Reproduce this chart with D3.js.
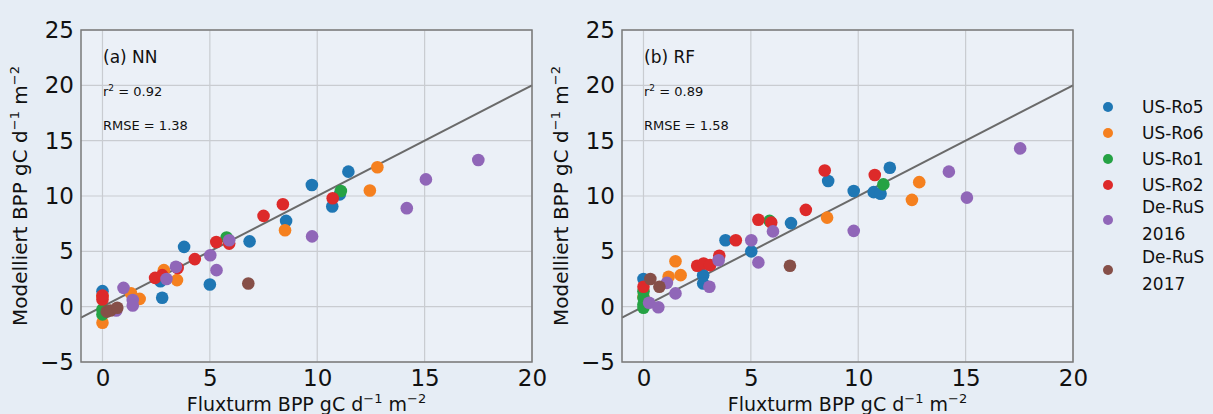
<!DOCTYPE html>
<html>
<head>
<meta charset="utf-8">
<script src="https://cdn.jsdelivr.net/npm/d3@7"></script>
<style>
  body { margin: 0; background: #e6edf5; }
  svg { display: block; font-family: "DejaVu Sans", sans-serif; }
</style>
</head>
<body>
<svg id="chart" width="1213" height="414"></svg>
<script>
// Standorte und Farben
const sites = ['US-Ro5', 'US-Ro6', 'US-Ro1', 'US-Ro2', 'De-RuS 2016', 'De-RuS 2017'];
const colors = ['#1f77b4', '#f5801f', '#25a244', '#dd2a2a', '#9066b8', '#864f48'];
const xTicks = [0, 5, 10, 15, 20];
const yTicks = [-5, 0, 5, 10, 15, 20, 25];

// (a) NN: [Fluxturm, Modelliert]
const nnRo5 = [[0, 1.4], [2.78, 0.8], [2.7, 2.3], [3.8, 5.4], [5.0, 2.0], [6.85, 5.9], [8.55, 7.75], [9.75, 11.0], [10.7, 9.05], [11.05, 10.15], [11.45, 12.2]];
const nnRo6 = [[0, -1.45], [0, 0.95], [1.33, 1.2], [1.73, 0.7], [2.86, 3.3], [3.47, 2.4], [8.5, 6.9], [12.45, 10.5], [12.8, 12.6]];
const nnRo1 = [[0, -0.25], [0, -0.7], [5.78, 6.25], [11.1, 10.45]];
const nnRo2 = [[0, 0.65], [0, 1.0], [2.45, 2.6], [2.78, 2.85], [3.5, 3.5], [4.3, 4.3], [5.3, 5.85], [5.9, 5.7], [7.5, 8.2], [8.4, 9.25], [10.72, 9.8]];
const nnRuS16 = [[0.98, 1.7], [1.41, 0.6], [1.41, 0.1], [0.64, -0.35], [2.98, 2.5], [3.42, 3.6], [5.02, 4.65], [5.31, 3.3], [5.9, 6.0], [9.76, 6.35], [14.17, 8.9], [15.06, 11.5], [17.5, 13.25]];
const nnRuS17 = [[0.2, -0.45], [0.37, -0.35], [0.69, -0.1], [6.79, 2.1]];

// (b) RF
const rfRo5 = [[0, 2.5], [2.78, 2.85], [2.78, 2.1], [3.82, 6.0], [5.02, 5.0], [6.87, 7.55], [8.6, 11.35], [9.79, 10.45], [10.72, 10.35], [11.04, 10.2], [11.47, 12.55]];
const rfRo6 = [[0, 0.9], [1.17, 2.7], [1.49, 4.1], [1.73, 2.85], [8.55, 8.05], [12.5, 9.65], [12.84, 11.25]];
const rfRo1 = [[0, 1.4], [0, 0.8], [0, 0.2], [0, -0.1], [5.87, 7.75], [11.17, 11.05]];
const rfRo2 = [[0, 1.8], [2.5, 3.7], [2.8, 3.9], [3.1, 3.75], [3.53, 4.6], [4.3, 6.0], [5.35, 7.85], [5.95, 7.6], [7.56, 8.75], [8.44, 12.3], [10.77, 11.9]];
const rfRuS16 = [[0.26, 0.35], [0.69, -0.05], [1.09, 2.15], [1.49, 1.2], [3.07, 1.8], [3.5, 4.2], [5.02, 6.0], [5.35, 4.0], [6.03, 6.8], [9.79, 6.85], [14.22, 12.2], [15.06, 9.85], [17.54, 14.3]];
const rfRuS17 = [[0.32, 2.5], [0.74, 1.8], [6.82, 3.7]];

const panels = [
  {left: 81, label: '(a) NN', r2: '0.92', rmse: '1.38', series: [nnRo5, nnRo6, nnRo1, nnRo2, nnRuS16, nnRuS17]},
  {left: 622, label: '(b) RF', r2: '0.89', rmse: '1.58', series: [rfRo5, rfRo6, rfRo1, rfRo2, rfRuS16, rfRuS17]}
];

const svg = d3.select('#chart');
const plotTop = 30, width = 451, height = 332;

panels.forEach(p => {
  const x = d3.scaleLinear().domain([-1, 20]).range([0, width]);
  const y = d3.scaleLinear().domain([-5, 25]).range([height, 0]);
  const g = svg.append('g').attr('transform', `translate(${p.left},${plotTop})`);

  g.append('rect').attr('width', width).attr('height', height).attr('fill', '#ebf0f7');

  // Gitter
  g.selectAll('.gx').data(xTicks).enter().append('line')
    .attr('x1', d => x(d)).attr('x2', d => x(d)).attr('y1', 0).attr('y2', height)
    .attr('stroke', '#c9ccd1').attr('stroke-width', 1.2);
  g.selectAll('.gy').data(yTicks).enter().append('line')
    .attr('y1', d => y(d)).attr('y2', d => y(d)).attr('x1', 0).attr('x2', width)
    .attr('stroke', '#c9ccd1').attr('stroke-width', 1.2);

  // Achsen
  const ax = g.append('g').attr('transform', `translate(0,${height})`)
    .call(d3.axisBottom(x).tickValues(xTicks).tickSize(0).tickPadding(6).tickFormat(d3.format('d')));
  const ay = g.append('g')
    .call(d3.axisLeft(y).tickValues(yTicks).tickSize(0).tickPadding(7).tickFormat(d => d < 0 ? '\u2212' + (-d) : d));
  [ax, ay].forEach(a => {
    a.select('.domain').remove();
    a.selectAll('text').attr('font-size', 23).attr('fill', '#111').attr('font-family', '"DejaVu Sans", sans-serif');
  });
  ax.selectAll('text').attr('dy', '0.78em');

  // 1:1 Linie
  g.append('line')
    .attr('x1', x(-1)).attr('y1', y(-1)).attr('x2', x(20)).attr('y2', y(20))
    .attr('stroke', '#6a6a6a').attr('stroke-width', 2);

  // Punkte
  p.series.forEach((s, i) => {
    g.selectAll(null).data(s).enter().append('circle')
      .attr('cx', d => x(d[0])).attr('cy', d => y(d[1])).attr('r', 6.3)
      .attr('fill', colors[i]);
  });

  g.append('rect').attr('width', width).attr('height', height)
    .attr('fill', 'none').attr('stroke', '#7a7a7a').attr('stroke-width', 1.5);

  // Beschriftung
  g.append('text').attr('x', 22).attr('y', 33).attr('font-size', 17).attr('fill', '#111').text(p.label);
  const r = g.append('text').attr('x', 22).attr('y', 66).attr('font-size', 13).attr('fill', '#111');
  r.append('tspan').text('r');
  r.append('tspan').attr('font-size', 9).attr('dy', -5).text('2');
  r.append('tspan').attr('dy', 5).text(' = ' + p.r2);
  g.append('text').attr('x', 22).attr('y', 100).attr('font-size', 13).attr('fill', '#111').text('RMSE = ' + p.rmse);

  // Achsentitel
  const unit = (t) => {
    t.append('tspan').text('BPP gC d');
    t.append('tspan').attr('font-size', 13).attr('dy', -8).text('\u22121');
    t.append('tspan').attr('dy', 8).text(' m');
    t.append('tspan').attr('font-size', 13).attr('dy', -8).text('\u22122');
  };
  const xl = g.append('text').attr('x', width / 2).attr('y', height + 49)
    .attr('text-anchor', 'middle').attr('font-size', 19).attr('fill', '#111');
  xl.append('tspan').text('Fluxturm ');
  unit(xl);
  const yl = g.append('text')
    .attr('transform', `translate(-54,${height / 2}) rotate(-90)`)
    .attr('text-anchor', 'middle').attr('font-size', 20).attr('fill', '#111');
  yl.append('tspan').text('Modelliert ');
  unit(yl);
});

// Legende
const legendRows = [
  {lines: ['US-Ro5'], y: 107},
  {lines: ['US-Ro6'], y: 133},
  {lines: ['US-Ro1'], y: 159},
  {lines: ['US-Ro2'], y: 185},
  {lines: ['De-RuS', '2016'], y: 220},
  {lines: ['De-RuS', '2017'], y: 270}
];
const lg = svg.append('g');
legendRows.forEach((row, i) => {
  lg.append('circle').attr('cx', 1108).attr('cy', row.y).attr('r', 5).attr('fill', colors[i]);
  row.lines.forEach((l, j) => {
    const n = row.lines.length;
    lg.append('text').attr('x', 1142).attr('y', row.y + (j - (n - 1) / 2) * 27)
      .attr('dy', '0.36em').attr('font-size', 17).attr('fill', '#111').text(l);
  });
});
</script>
</body>
</html>
